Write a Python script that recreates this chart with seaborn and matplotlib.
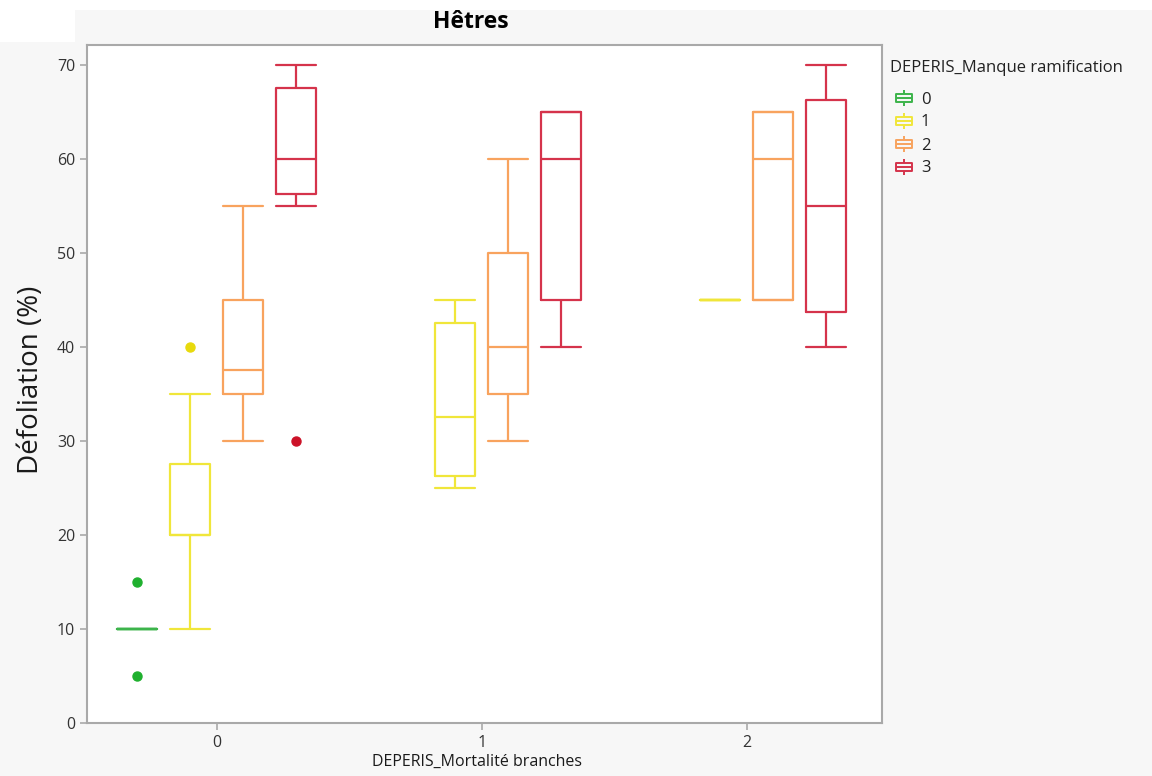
import matplotlib
matplotlib.use("Agg")
import matplotlib.pyplot as plt
import pandas as pd
import seaborn as sns
from matplotlib.path import Path
from matplotlib.lines import Line2D
from matplotlib.patches import Rectangle

# Categories
mortalite_levels = ["0", "1", "2"]
ramification_levels = ["0", "1", "2", "3"]

# Defoliation observations (%) per (mortalité branches, manque ramification)
defol_m0_r0 = [5, 10, 10, 10, 10, 10, 10, 15]
defol_m0_r1 = [10, 15, 20, 20, 20, 20, 25, 25, 30, 35, 40]
defol_m0_r2 = [30, 35, 35, 35, 35, 40, 45, 45, 50, 55]
defol_m0_r3 = [30, 55, 55, 60, 60, 60, 60, 70, 70, 70]
defol_m1_r1 = [25, 25, 25, 30, 30, 35, 35, 45, 45, 45]
defol_m1_r2 = [30, 35, 35, 35, 40, 45, 50, 55, 60]
defol_m1_r3 = [40, 45, 45, 55, 60, 65, 65, 65, 65]
defol_m2_r1 = [45, 45]
defol_m2_r2 = [45, 45, 60, 65, 65]
defol_m2_r3 = [40, 40, 55, 55, 70, 70]

groups = {
    ("0", "0"): defol_m0_r0, ("0", "1"): defol_m0_r1,
    ("0", "2"): defol_m0_r2, ("0", "3"): defol_m0_r3,
    ("1", "1"): defol_m1_r1, ("1", "2"): defol_m1_r2, ("1", "3"): defol_m1_r3,
    ("2", "1"): defol_m2_r1, ("2", "2"): defol_m2_r2, ("2", "3"): defol_m2_r3,
}
rows = [(m, r, v) for (m, r), vals in groups.items() for v in vals]
df = pd.DataFrame(rows, columns=["mortalite", "ramification", "defoliation"])

line_colors = {"0": "#3cb44b", "1": "#f0e63a", "2": "#f8a35e", "3": "#d5334b"}
dot_colors = {"0": "#1fb02e", "1": "#e8da0c", "2": "#f08a30", "3": "#cc1228"}

sns.set_theme(style="white")
plt.rcParams["font.family"] = ["Open Sans", "DejaVu Sans"]

W, H = 1152, 776
fig = plt.figure(figsize=(W / 100, H / 100), dpi=100, facecolor="#f7f7f7")
# white margins at the top-left of the report frame
fig.patches.append(Rectangle((0, 1 - 10 / H), 1, 10 / H, transform=fig.transFigure,
                             facecolor="white", edgecolor="none", zorder=0))
fig.patches.append(Rectangle((0, 1 - 42 / H), 75 / W, 32 / H, transform=fig.transFigure,
                             facecolor="white", edgecolor="none", zorder=0))

ax = fig.add_axes([87 / W, 53 / H, 795 / W, 678 / H])
ax.set_facecolor("white")

sns.boxplot(
    data=df, x="mortalite", y="defoliation", hue="ramification",
    order=mortalite_levels, hue_order=ramification_levels,
    palette=line_colors, saturation=1, fill=False, width=0.8, gap=0.25,
    whis=1.5, linewidth=1.6, fliersize=6.5, capwidths=0.15,
    flierprops=dict(marker="o"), legend=False, ax=ax,
)

# filled outlier dots in a deeper shade of each series colour
inv = {matplotlib.colors.to_hex(c): k for k, c in line_colors.items()}
for ln in ax.lines:
    if ln.get_marker() == "o":
        key = inv.get(matplotlib.colors.to_hex(ln.get_markeredgecolor()),
                      inv.get(matplotlib.colors.to_hex(ln.get_color()), None))
        if key is not None:
            ln.set_markerfacecolor(dot_colors[key])
            ln.set_markeredgecolor(dot_colors[key])

ax.set_xlim(-0.49, 2.51)
ax.set_ylim(0, 72.1)
ax.set_yticks(range(0, 71, 10))
ax.set_xlabel("")
ax.set_ylabel("")
for s in ax.spines.values():
    s.set_color("#a9a9a9")
    s.set_linewidth(1.5)
ax.tick_params(axis="both", which="major", direction="out", length=5, width=1.2,
               color="#a9a9a9", labelcolor="#333333", labelsize=11.5, left=True, bottom=True)

fig.text(471 / W, 1 - 22 / H, "Hêtres", ha="center", va="center",
         fontsize=16.5, fontweight="bold", color="black")
fig.text(31 / W, 1 - 380 / H, "Défoliation (%)", rotation=90, ha="center", va="center",
         fontsize=20, color="#1a1a1a")
fig.text(477 / W, 1 - 762 / H, "DEPERIS_Mortalité branches", ha="center", va="center",
         fontsize=11.5, color="#1a1a1a")

# legend title and entries
fig.text(890 / W, 1 - 68 / H, "DEPERIS_Manque ramification", ha="left", va="center",
         fontsize=12, color="#222222")

# legend glyph: small box with median and whiskers
verts = [(-0.5, -0.26), (0.5, -0.26), (0.5, 0.26), (-0.5, 0.26), (-0.5, -0.26),
         (0, 0.26), (0, 0.55), (0, -0.26), (0, -0.55), (-0.5, 0), (0.5, 0)]
codes = [Path.MOVETO, Path.LINETO, Path.LINETO, Path.LINETO, Path.CLOSEPOLY,
         Path.MOVETO, Path.LINETO, Path.MOVETO, Path.LINETO, Path.MOVETO, Path.LINETO]
glyph = Path(verts, codes)
handles = [Line2D([], [], linestyle="none", marker=glyph, markersize=12,
                  markerfacecolor="none", markeredgecolor=line_colors[k], markeredgewidth=1.4)
           for k in ramification_levels]
leg = fig.legend(handles, ramification_levels, loc="upper left",
                 bbox_to_anchor=(896 / W, 1 - 91.5 / H), bbox_transform=fig.transFigure,
                 frameon=False, fontsize=12, handlelength=1.0, handletextpad=0.5,
                 labelspacing=0.42, borderpad=0, borderaxespad=0)
for t in leg.get_texts():
    t.set_color("#222222")

fig.savefig("out.png", dpi=100, facecolor=fig.get_facecolor())
